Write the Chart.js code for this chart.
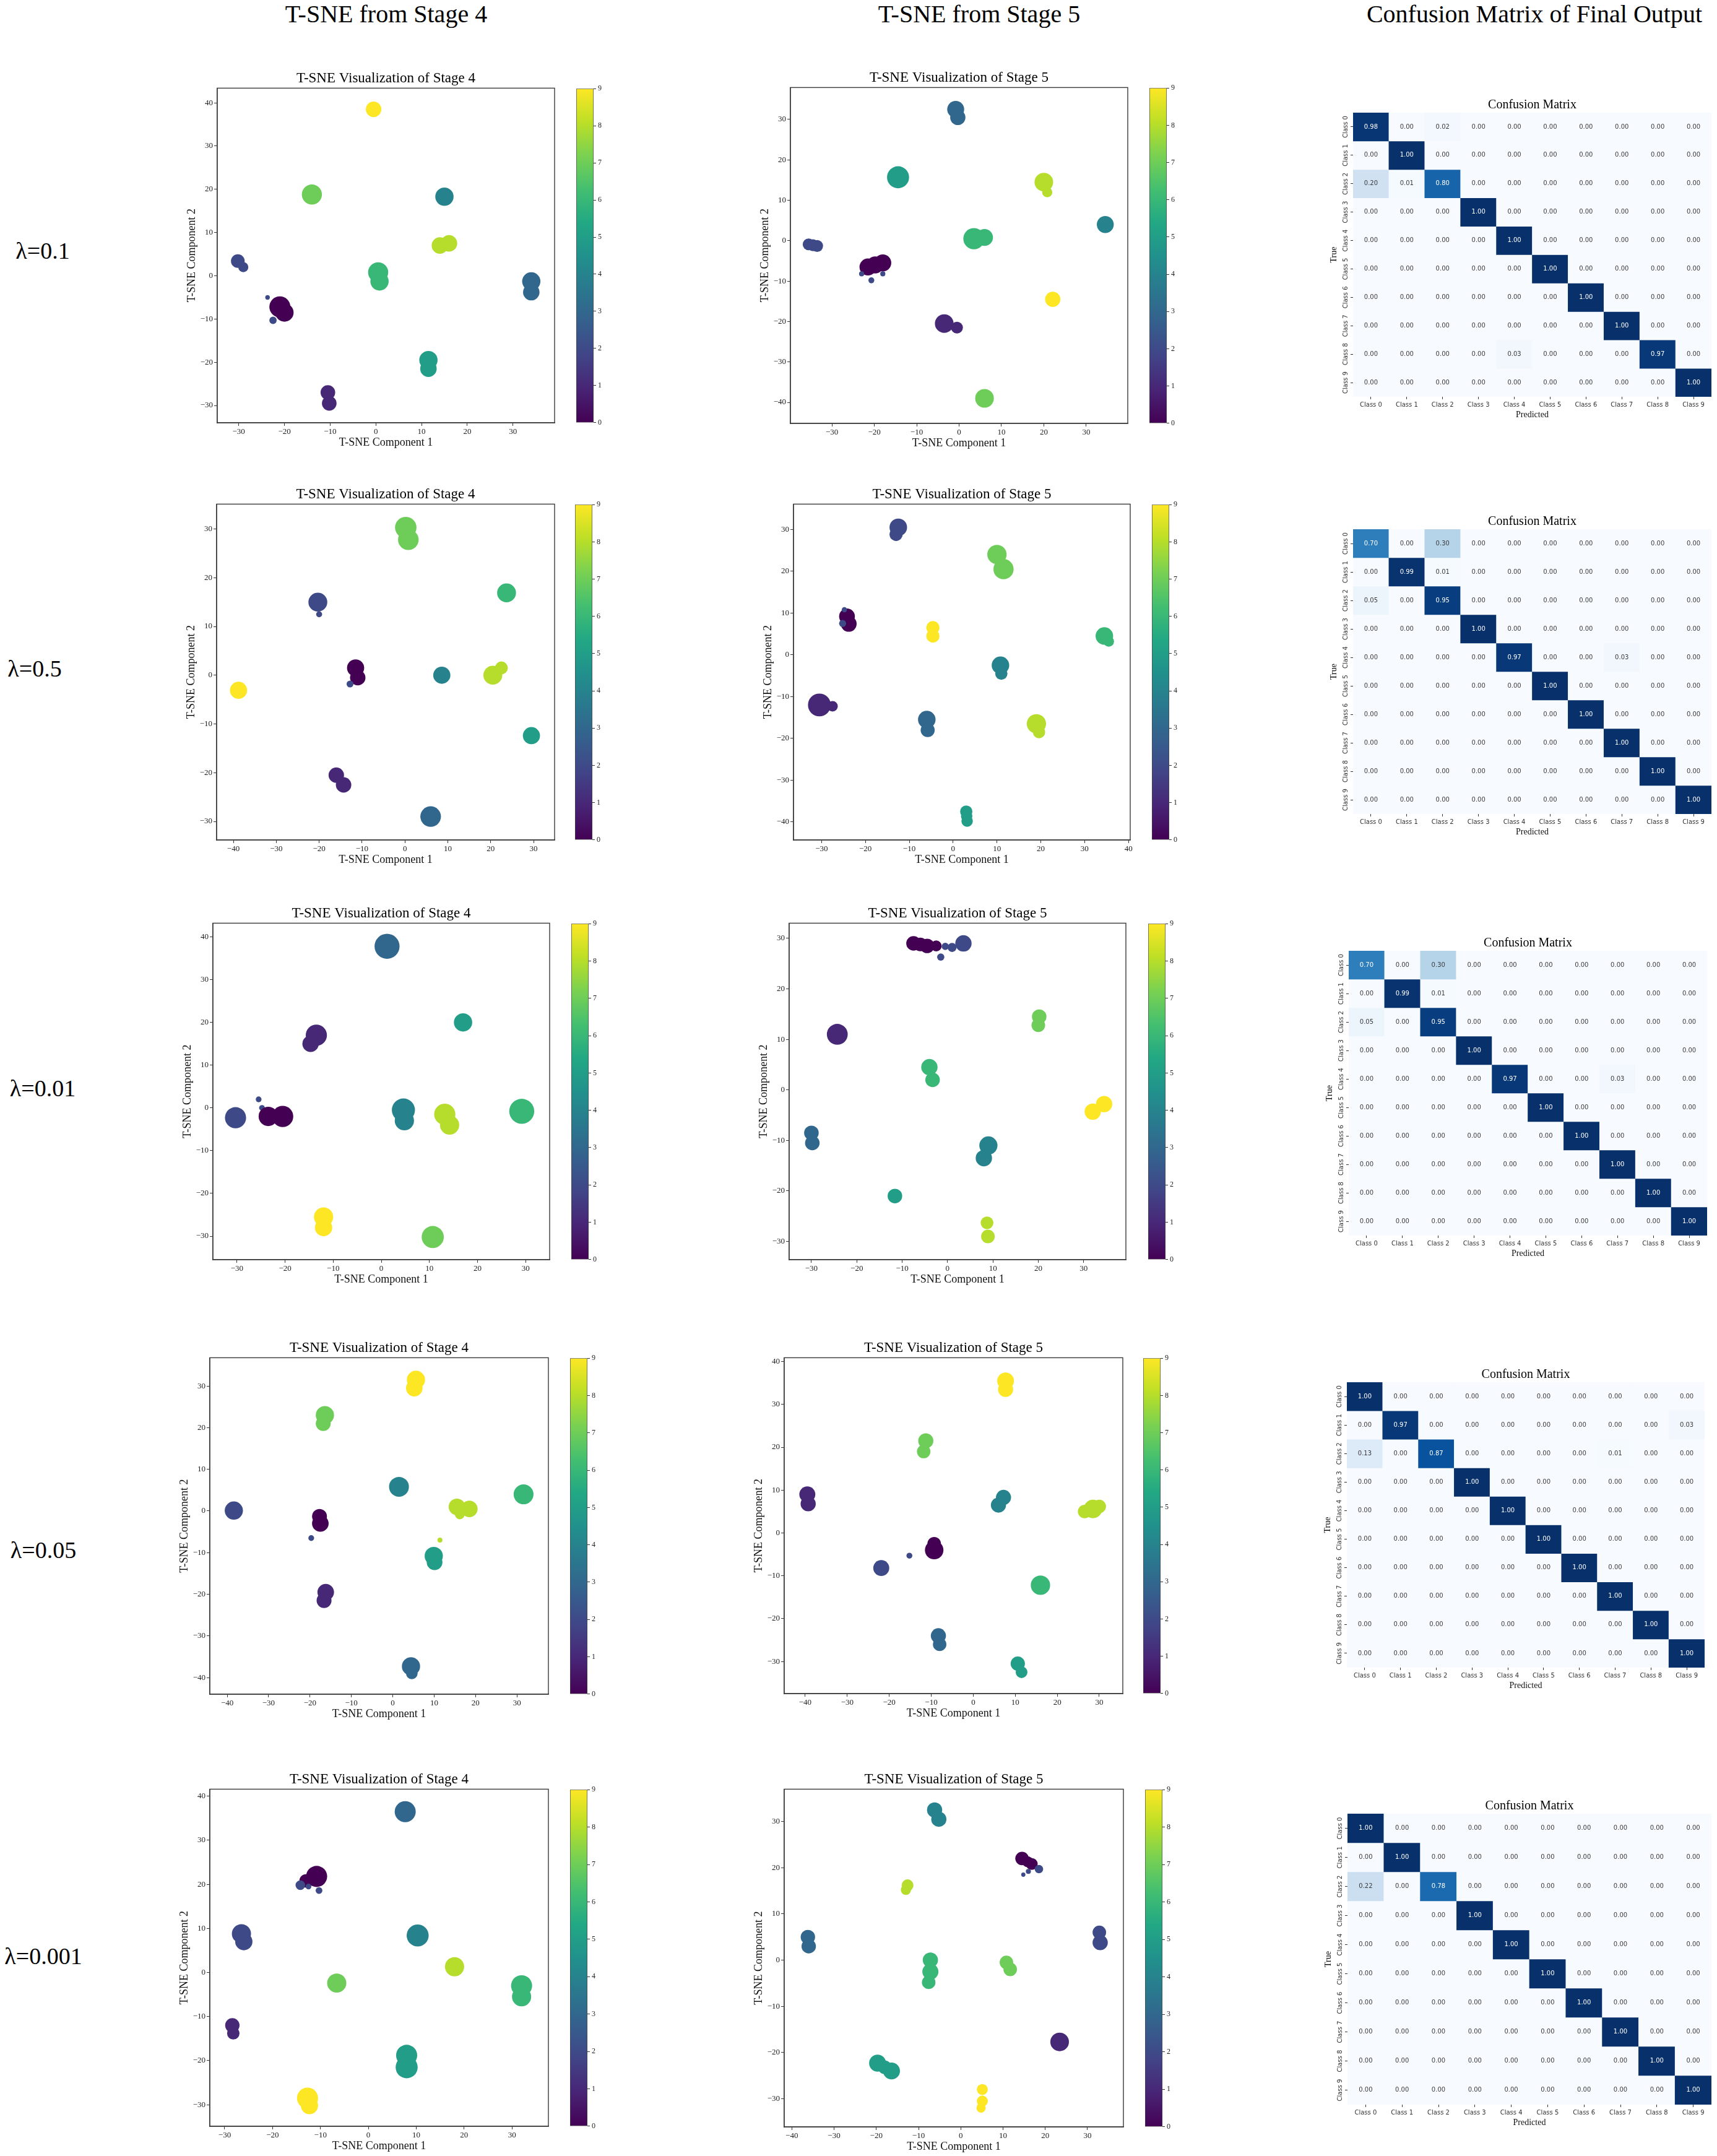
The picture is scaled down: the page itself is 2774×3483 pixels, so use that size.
<!DOCTYPE html>
<html>
<head>
<meta charset="utf-8">
<script src="https://cdn.jsdelivr.net/npm/chart.js@4.4.1/dist/chart.umd.min.js"></script>
<style>
  body { margin: 0; background: #fff; width: 2774px; height: 3483px; position: relative; overflow: hidden; }
  .lbl { position: absolute; font-family: "Liberation Serif", "Times New Roman", serif; color: #000;
         transform: translate(-50%, -50%); white-space: nowrap; line-height: 1; }
</style>
</head>
<body>
<script>
// ---- data ----
const CLASS_NAMES = ['Class 0', 'Class 1', 'Class 2', 'Class 3', 'Class 4', 'Class 5', 'Class 6', 'Class 7', 'Class 8', 'Class 9'];
const LAMBDAS = ['λ=0.1', 'λ=0.5', 'λ=0.01', 'λ=0.05', 'λ=0.001'];
const COLUMN_TITLES = ['T-SNE from Stage 4', 'T-SNE from Stage 5', 'Confusion Matrix of Final Output'];
const CB_TICKS = [0, 1, 2, 3, 4, 5, 6, 7, 8, 9];
const T_30_30 = [-30, -20, -10, 0, 10, 20, 30];
const T_40_30 = [-40, -30, -20, -10, 0, 10, 20, 30];
const T_30_40 = [-30, -20, -10, 0, 10, 20, 30, 40];

// clusters: [class, x, y, spread (x units)]
const S4_L01 = [
  [9, -0.5, 38.5, 1.7], [7, -14, 18.8, 2.2], [4, 15, 18.3, 2.0],
  [8, 14, 7, 1.8], [8, 16, 7.5, 1.8], [6, 0.5, 0.8, 2.2], [6, 0.8, -1.3, 2.0],
  [2, -30.2, 3.4, 1.5], [2, -29, 2, 1.1], [0, -21, -7.2, 2.3], [0, -20, -8.5, 2.0],
  [2, -22.5, -10.3, 0.8], [2, -23.7, -5, 0.5], [3, 34, -1.3, 2.0], [3, 34, -3.8, 1.8],
  [5, 11.5, -19.5, 2.0], [5, 11.5, -21.5, 1.8], [1, -10.5, -27, 1.6], [1, -10.2, -29.5, 1.6]
];
const S5_L01 = [
  [3, -0.8, 32.5, 2.0], [3, -0.3, 30.5, 1.8], [5, -14.4, 15.7, 2.6],
  [8, 20, 14.5, 2.2], [8, 20.8, 12, 1.2], [4, 34.5, 4, 2.0],
  [6, 3.5, 0.5, 2.5], [6, 6, 0.8, 2.0], [2, -35.5, -0.9, 1.4], [2, -34.5, -1.1, 1.4], [2, -33.5, -1.3, 1.4],
  [0, -21.5, -6.5, 2.0], [0, -19.8, -6, 2.0], [0, -18, -5.5, 2.0], [2, -23, -8.2, 0.6], [2, -20.7, -9.8, 0.7], [2, -18, -8.2, 0.6],
  [9, 22.1, -14.5, 1.8], [1, -3.5, -20.5, 2.2], [1, -0.5, -21.5, 1.4], [7, 6, -39, 2.2]
];
const S4_L05 = [
  [7, 0.2, 30.3, 2.5], [7, 0.8, 27.8, 2.4], [6, 23.7, 16.9, 2.2],
  [2, -20.3, 15, 2.2], [2, -20, 12.5, 0.7], [0, -11.5, 1.5, 2.0], [0, -11, -0.5, 1.8],
  [2, -12.8, -1.8, 0.8], [4, 8.6, 0, 2.0], [8, 20.5, 0, 2.2], [8, 22.5, 1.5, 1.5],
  [9, -38.8, -3.1, 2.0], [5, 29.5, -12.4, 2.0], [1, -16, -20.5, 1.8], [1, -14.3, -22.5, 1.8],
  [3, 6, -29, 2.4]
];
const S5_L05 = [
  [2, -12.5, 30.5, 2.0], [2, -13, 28.8, 1.5], [7, 10, 24, 2.2], [7, 11.5, 20.5, 2.3],
  [0, -24.2, 9.2, 1.8], [0, -23.8, 7.4, 1.8], [2, -25.2, 7.5, 0.8], [2, -24.8, 10.8, 0.6],
  [9, -4.6, 6.5, 1.5], [9, -4.6, 4.5, 1.5], [6, 34.5, 4.5, 2.0], [6, 35.5, 3.2, 1.2],
  [4, 10.8, -2.5, 2.0], [4, 11, -4.5, 1.4], [1, -30.5, -12, 2.6], [1, -27.5, -12.3, 1.2],
  [3, -6, -15.5, 2.0], [3, -5.8, -18, 1.6], [8, 19, -16.5, 2.2], [8, 19.6, -18.5, 1.4],
  [5, 3, -37.5, 1.4], [5, 3.1, -38.6, 1.3], [5, 3.2, -39.8, 1.3]
];
const S4_L001 = [
  [3, 1.2, 37.8, 2.6], [5, 17, 20, 1.9], [1, -13.5, 17, 2.2], [1, -14.7, 15, 1.7],
  [2, -30.3, -2.3, 2.2], [2, -25.5, 2, 0.6], [2, -24.8, 0, 0.6],
  [0, -23.5, -2, 2.0], [0, -20.5, -2, 2.2], [4, 4.6, -0.5, 2.4], [4, 4.8, -3, 2.0],
  [8, 13.2, -1.5, 2.2], [8, 14.2, -4, 2.0], [6, 29.2, -0.8, 2.6],
  [9, -12, -25.5, 2.0], [9, -12, -28, 1.8], [7, 10.7, -30.2, 2.3]
];
const S5_L001 = [
  [0, -7.5, 29, 1.6], [0, -6, 28.8, 1.5], [0, -4.5, 28.5, 1.6], [0, -2.5, 28.5, 1.2],
  [2, 3.5, 29, 1.8], [2, 1, 28.2, 1.0], [2, -1.5, 26.3, 0.8], [2, -0.5, 28.4, 0.8],
  [1, -24.3, 11, 2.3], [7, 20.2, 14.5, 1.6], [7, 20, 12.8, 1.5],
  [6, -4, 4.5, 1.8], [6, -3.3, 2, 1.6], [9, 34.5, -2.8, 1.8], [9, 32, -4.3, 1.8],
  [3, -30, -8.5, 1.6], [3, -29.8, -10.5, 1.6], [4, 9, -11, 2.0], [4, 8, -13.5, 1.8],
  [5, -11.6, -21, 1.6], [8, 8.7, -26.3, 1.4], [8, 8.9, -29, 1.5]
];
const S4_L005 = [
  [9, 5.6, 31.5, 2.2], [9, 5.2, 29.5, 2.0], [7, -16.4, 23, 2.2], [7, -16.8, 21, 1.8],
  [4, 1.5, 5.8, 2.4], [6, 31.6, 4, 2.4], [8, 15.5, 1, 2.0], [8, 18.5, 0.5, 2.0], [8, 16.2, -0.8, 1.2],
  [2, -38.4, 0.1, 2.2], [0, -17.7, -1.3, 1.8], [0, -17.5, -3, 2.0], [2, -19.7, -6.5, 0.7],
  [5, 9.9, -10.8, 2.2], [5, 10.1, -12.3, 1.9], [8, 11.4, -7, 0.6],
  [1, -16.2, -19.5, 2.0], [1, -16.6, -21.5, 1.8], [3, 4.4, -37.3, 2.2], [3, 4.6, -39, 1.4]
];
const S5_L005 = [
  [9, 7.7, 35.5, 2.0], [9, 7.7, 33.5, 1.8], [7, -11.3, 21.5, 1.8], [7, -11.8, 19, 1.6],
  [1, -39.5, 9, 1.9], [1, -39.3, 6.8, 1.8], [4, 7.2, 8.3, 1.8], [4, 6, 6.5, 1.8],
  [8, 28.5, 5.6, 2.2], [8, 26.5, 5, 1.6], [8, 30, 6.2, 1.6],
  [0, -9.3, -2.5, 1.6], [0, -9.3, -4, 2.2], [2, -15.2, -5.3, 0.7], [2, -21.9, -8.2, 1.9],
  [6, 16, -12.2, 2.3], [3, -8.3, -24, 1.8], [3, -8, -26, 1.6], [5, 10.6, -30.5, 1.7], [5, 11.5, -32.5, 1.4]
];
const S4_L0001 = [
  [3, 7.7, 36.5, 2.2], [0, -10.8, 21.8, 2.2], [0, -13, 20.8, 1.4],
  [2, -14.2, 19.8, 1.0], [2, -10.3, 18.6, 0.7], [2, -12.5, 19.5, 0.6],
  [2, -26.5, 8.8, 2.0], [2, -26, 7, 1.8], [4, 10.3, 8.4, 2.3], [8, 18, 1.3, 2.0],
  [7, -6.6, -2.4, 2.0], [6, 32, -3, 2.2], [6, 32, -5.5, 2.0],
  [1, -28.4, -12, 1.5], [1, -28.2, -13.8, 1.3], [5, 8, -18.8, 2.2], [5, 8, -21.5, 2.3],
  [9, -12.7, -28.5, 2.2], [9, -12.3, -30.2, 1.8]
];
const S5_L0001 = [
  [4, -6.2, 32.5, 1.8], [4, -5.2, 30.5, 1.8], [0, 14.5, 22, 1.6], [0, 15.8, 21.3, 1.3], [0, 16.8, 20.8, 1.4],
  [2, 18.5, 19.7, 1.0], [2, 16, 19.2, 0.6], [2, 14.8, 18.5, 0.5],
  [8, -12.6, 16.2, 1.4], [8, -13, 15.2, 1.2], [3, -36.2, 5, 1.7], [3, -36, 3, 1.7],
  [2, 32.8, 6, 1.6], [2, 33, 3.8, 1.8], [6, -7.2, 0, 1.8], [6, -7.2, -2.5, 1.9], [6, -7.6, -4.8, 1.6],
  [7, 10.8, -0.5, 1.6], [7, 11.7, -2, 1.6], [1, 23.4, -17.7, 2.2],
  [5, -19.7, -22.3, 2.0], [5, -18, -23.2, 1.6], [5, -16.4, -24, 2.0], [9, 5.1, -28, 1.3], [9, 5.1, -30.5, 1.3], [9, 4.8, -32, 1.1]
];

// axis limits [min, max]
const S4_L01_XLIM = [-34.7, 39.1],  S4_L01_YLIM = [-34.0, 43.4];
const S5_L01_XLIM = [-39.8, 39.8],  S5_L01_YLIM = [-45.2, 37.9];
const S4_L05_XLIM = [-43.9, 34.9],  S4_L05_YLIM = [-33.8, 35.1];
const S5_L05_XLIM = [-36.4, 40.4],  S5_L05_YLIM = [-44.3, 36.05];
const S4_L001_XLIM = [-35, 35],     S4_L001_YLIM = [-35.5, 43.2];
const S5_L001_XLIM = [-34.9, 39.3], S5_L001_YLIM = [-33.6, 33];
const S4_L005_XLIM = [-44.2, 37.6], S4_L005_YLIM = [-44, 36.8];
const S5_L005_XLIM = [-45, 35.6],   S5_L005_YLIM = [-37.5, 40.9];
const S4_L0001_XLIM = [-33.1, 37.6], S4_L0001_YLIM = [-34.9, 41.6];
const S5_L0001_XLIM = [-41.8, 38.5], S5_L0001_YLIM = [-36.1, 37];

// confusion matrices (rows = true, cols = predicted)
const CM_L01 = [
  [0.98, 0, 0.02, 0, 0, 0, 0, 0, 0, 0],
  [0, 1.00, 0, 0, 0, 0, 0, 0, 0, 0],
  [0.20, 0.01, 0.80, 0, 0, 0, 0, 0, 0, 0],
  [0, 0, 0, 1.00, 0, 0, 0, 0, 0, 0],
  [0, 0, 0, 0, 1.00, 0, 0, 0, 0, 0],
  [0, 0, 0, 0, 0, 1.00, 0, 0, 0, 0],
  [0, 0, 0, 0, 0, 0, 1.00, 0, 0, 0],
  [0, 0, 0, 0, 0, 0, 0, 1.00, 0, 0],
  [0, 0, 0, 0, 0.03, 0, 0, 0, 0.97, 0],
  [0, 0, 0, 0, 0, 0, 0, 0, 0, 1.00]
];
const CM_L05 = [
  [0.70, 0, 0.30, 0, 0, 0, 0, 0, 0, 0],
  [0, 0.99, 0.01, 0, 0, 0, 0, 0, 0, 0],
  [0.05, 0, 0.95, 0, 0, 0, 0, 0, 0, 0],
  [0, 0, 0, 1.00, 0, 0, 0, 0, 0, 0],
  [0, 0, 0, 0, 0.97, 0, 0, 0.03, 0, 0],
  [0, 0, 0, 0, 0, 1.00, 0, 0, 0, 0],
  [0, 0, 0, 0, 0, 0, 1.00, 0, 0, 0],
  [0, 0, 0, 0, 0, 0, 0, 1.00, 0, 0],
  [0, 0, 0, 0, 0, 0, 0, 0, 1.00, 0],
  [0, 0, 0, 0, 0, 0, 0, 0, 0, 1.00]
];
const CM_L001 = [
  [0.70, 0, 0.30, 0, 0, 0, 0, 0, 0, 0],
  [0, 0.99, 0.01, 0, 0, 0, 0, 0, 0, 0],
  [0.05, 0, 0.95, 0, 0, 0, 0, 0, 0, 0],
  [0, 0, 0, 1.00, 0, 0, 0, 0, 0, 0],
  [0, 0, 0, 0, 0.97, 0, 0, 0.03, 0, 0],
  [0, 0, 0, 0, 0, 1.00, 0, 0, 0, 0],
  [0, 0, 0, 0, 0, 0, 1.00, 0, 0, 0],
  [0, 0, 0, 0, 0, 0, 0, 1.00, 0, 0],
  [0, 0, 0, 0, 0, 0, 0, 0, 1.00, 0],
  [0, 0, 0, 0, 0, 0, 0, 0, 0, 1.00]
];
const CM_L005 = [
  [1.00, 0, 0, 0, 0, 0, 0, 0, 0, 0],
  [0, 0.97, 0, 0, 0, 0, 0, 0, 0, 0.03],
  [0.13, 0, 0.87, 0, 0, 0, 0, 0.01, 0, 0],
  [0, 0, 0, 1.00, 0, 0, 0, 0, 0, 0],
  [0, 0, 0, 0, 1.00, 0, 0, 0, 0, 0],
  [0, 0, 0, 0, 0, 1.00, 0, 0, 0, 0],
  [0, 0, 0, 0, 0, 0, 1.00, 0, 0, 0],
  [0, 0, 0, 0, 0, 0, 0, 1.00, 0, 0],
  [0, 0, 0, 0, 0, 0, 0, 0, 1.00, 0],
  [0, 0, 0, 0, 0, 0, 0, 0, 0, 1.00]
];
const CM_L0001 = [
  [1.00, 0, 0, 0, 0, 0, 0, 0, 0, 0],
  [0, 1.00, 0, 0, 0, 0, 0, 0, 0, 0],
  [0.22, 0, 0.78, 0, 0, 0, 0, 0, 0, 0],
  [0, 0, 0, 1.00, 0, 0, 0, 0, 0, 0],
  [0, 0, 0, 0, 1.00, 0, 0, 0, 0, 0],
  [0, 0, 0, 0, 0, 1.00, 0, 0, 0, 0],
  [0, 0, 0, 0, 0, 0, 1.00, 0, 0, 0],
  [0, 0, 0, 0, 0, 0, 0, 1.00, 0, 0],
  [0, 0, 0, 0, 0, 0, 0, 0, 1.00, 0],
  [0, 0, 0, 0, 0, 0, 0, 0, 0, 1.00]
];

const PANELS = [
  { s4: [S4_L01, S4_L01_XLIM, S4_L01_YLIM, T_30_30, T_30_40], s5: [S5_L01, S5_L01_XLIM, S5_L01_YLIM, T_30_30, T_40_30], cm: CM_L01 },
  { s4: [S4_L05, S4_L05_XLIM, S4_L05_YLIM, T_40_30, T_30_30], s5: [S5_L05, S5_L05_XLIM, S5_L05_YLIM, T_30_40, T_40_30], cm: CM_L05 },
  { s4: [S4_L001, S4_L001_XLIM, S4_L001_YLIM, T_30_30, T_30_40], s5: [S5_L001, S5_L001_XLIM, S5_L001_YLIM, T_30_30, T_30_30], cm: CM_L001 },
  { s4: [S4_L005, S4_L005_XLIM, S4_L005_YLIM, T_40_30, T_40_30], s5: [S5_L005, S5_L005_XLIM, S5_L005_YLIM, T_40_30, T_30_40], cm: CM_L005 },
  { s4: [S4_L0001, S4_L0001_XLIM, S4_L0001_YLIM, T_30_30, T_30_40], s5: [S5_L0001, S5_L0001_XLIM, S5_L0001_YLIM, T_40_30, T_30_30], cm: CM_L0001 }
];

// ---- layout (page pixels): plot boxes [left, top, right, bottom, colorbarLeft], matrix grid [l, t, r, b] ----
const LAYOUT = [
  { lx: 69, ly: 405,  s4: [351, 143, 896, 683, 931],   s5: [1277, 142, 1822, 684, 1857],   cm: [2186, 182, 2765, 641] },
  { lx: 56, ly: 1080, s4: [350, 815, 896, 1357, 929],  s5: [1282, 815, 1826, 1357, 1861],  cm: [2186, 855, 2765, 1315] },
  { lx: 69, ly: 1758, s4: [344, 1492, 888, 2035, 923], s5: [1275, 1492, 1819, 2035, 1855], cm: [2179, 1536, 2758, 1996] },
  { lx: 70, ly: 2504, s4: [339, 2194, 886, 2737, 921], s5: [1267, 2194, 1814, 2736, 1847], cm: [2176, 2233, 2754, 2694] },
  { lx: 70, ly: 3160, s4: [339, 2891, 886, 3435, 921], s5: [1267, 2891, 1815, 3436, 1850], cm: [2177, 2930, 2765, 3400] }
];
const COLUMN_X = [624, 1582, 2479];
const COLUMN_Y = 23;

const SERIF = '"Liberation Serif", "Times New Roman", serif';
const SANS = '"DejaVu Sans", sans-serif';

const VIRIDIS = ['#440154', '#482475', '#414487', '#355f8d', '#2a788e', '#21918c', '#22a884', '#44bf70', '#7ad151', '#bddf26', '#fde725'];
const BLUES = ['#f7fbff', '#deebf7', '#c6dbef', '#9ecae1', '#6baed6', '#4292c6', '#2171b5', '#08519c', '#08306b'];

function hexRgb(h) { return [1, 3, 5].map(i => parseInt(h.substr(i, 2), 16)); }
function sampleMap(stops, t) {
  t = Math.max(0, Math.min(1, t));
  const p = t * (stops.length - 1), i = Math.min(Math.floor(p), stops.length - 2), f = p - i;
  const a = hexRgb(stops[i]), b = hexRgb(stops[i + 1]);
  return 'rgb(' + a.map((v, k) => Math.round(v + (b[k] - v) * f)).join(',') + ')';
}
const classColor = c => sampleMap(VIRIDIS, c / 9);
const fmtTick = v => (v < 0 ? '\u2212' + Math.abs(v) : String(v));

Chart.defaults.font.family = SERIF;
Chart.defaults.animation = false;

function makeCanvas(x, y, w, h) {
  const cv = document.createElement('canvas');
  x = Math.round(x); y = Math.round(y); w = Math.round(w); h = Math.round(h);
  cv.width = w; cv.height = h;
  cv.style.cssText = `position:absolute;left:${x}px;top:${y}px;width:${w}px;height:${h}px`;
  document.body.appendChild(cv);
  return cv;
}

function addLabel(text, x, y, size) {
  const d = document.createElement('div');
  d.className = 'lbl';
  d.textContent = text;
  d.style.left = x + 'px';
  d.style.top = y + 'px';
  d.style.fontSize = size + 'px';
  document.body.appendChild(d);
}

const frame = {
  id: 'frame',
  afterDraw(chart) {
    const { ctx, chartArea: a } = chart;
    ctx.save();
    ctx.strokeStyle = '#3a3a3a';
    ctx.lineWidth = 1.4;
    ctx.strokeRect(a.left, a.top, a.right - a.left, a.bottom - a.top);
    ctx.restore();
  }
};

function scatterPlot(box, title, spec) {
  const [blobs, xlim, ylim, xt, yt] = spec;
  const L = 56, B = 47, T = 29.6, R = 12;
  const cv = makeCanvas(box[0] - L, box[1] - T, box[2] - box[0] + L + R, box[3] - box[1] + T + B);
  const axis = (ticks, lim, label, isX) => ({
    type: 'linear', min: lim[0], max: lim[1],
    afterBuildTicks: s => { s.ticks = ticks.map(v => ({ value: v })); },
    afterFit: s => { if (isX) s.height = B; else s.width = L; },
    grid: { display: true, drawOnChartArea: false, drawTicks: true, tickLength: 5, color: '#333', lineWidth: 1 },
    border: { display: true, color: '#3a3a3a', width: 1.4 },
    ticks: { font: { family: SERIF, size: 13 }, color: '#222', padding: 2, autoSkip: false, maxRotation: 0, callback: v => fmtTick(v) },
    title: { display: true, text: label, font: { family: SERIF, size: 18 }, color: '#111', padding: { top: 4, bottom: 4 } }
  });
  new Chart(cv, {
    type: 'scatter',
    data: {
      datasets: [{
        data: blobs.map(b => ({ x: b[1], y: b[2], c: b[0], s: b[3] })),
        backgroundColor: ctx => (ctx.raw ? classColor(ctx.raw.c) : '#000'),
        borderWidth: 0,
        radius: ctx => {
          if (!ctx.raw) return 3;
          const sx = ctx.chart.scales.x;
          return Math.abs(sx.getPixelForValue(ctx.raw.x + ctx.raw.s) - sx.getPixelForValue(ctx.raw.x));
        }
      }]
    },
    options: {
      responsive: false, devicePixelRatio: 1, events: [],
      layout: { padding: { left: 0, top: 0, right: R, bottom: 0 } },
      plugins: {
        legend: { display: false }, tooltip: { enabled: false },
        title: { display: true, text: title, fullSize: false, font: { family: SERIF, size: 23, weight: 'normal' }, color: '#000', padding: { top: 0, bottom: 1.8 } }
      },
      scales: { x: axis(xt, xlim, 'T-SNE Component 1', true), y: axis(yt, ylim, 'T-SNE Component 2', false) }
    },
    plugins: [frame]
  });
}

function colorbar(left, top, bottom) {
  const W = 28, A = 24, P = 10;
  const cv = makeCanvas(left, top - P, W + A, bottom - top + 2 * P);
  new Chart(cv, {
    type: 'bar',
    data: {
      labels: [''],
      datasets: [{
        data: [[CB_TICKS[0], CB_TICKS[CB_TICKS.length - 1]]],
        backgroundColor: ctx => {
          const ch = ctx.chart, a = ch.chartArea;
          if (!a) return VIRIDIS[0];
          const g = ch.ctx.createLinearGradient(0, a.bottom, 0, a.top);
          VIRIDIS.forEach((c, i) => g.addColorStop(i / (VIRIDIS.length - 1), c));
          return g;
        },
        borderColor: '#444', borderWidth: 1, borderSkipped: false,
        barPercentage: 1, categoryPercentage: 1
      }]
    },
    options: {
      responsive: false, devicePixelRatio: 1, events: [],
      layout: { padding: { left: 0, right: 0, top: P, bottom: P } },
      plugins: { legend: { display: false }, tooltip: { enabled: false } },
      scales: {
        x: { display: false },
        y: {
          position: 'right', min: 0, max: 9,
          afterBuildTicks: s => { s.ticks = CB_TICKS.map(v => ({ value: v })); },
          afterFit: s => { s.width = A; },
          grid: { drawOnChartArea: false, tickLength: 4, color: '#333' },
          border: { display: false },
          ticks: { font: { family: SERIF, size: 12 }, color: '#222', padding: 3, autoSkip: false }
        }
      }
    }
  });
}

const cellText = {
  id: 'cellText',
  afterDatasetsDraw(chart) {
    const c = chart.ctx;
    c.save();
    c.font = '10px ' + SANS;
    c.textAlign = 'center';
    c.textBaseline = 'middle';
    chart.data.datasets.forEach((ds, i) => {
      chart.getDatasetMeta(i).data.forEach((bar, j) => {
        const v = ds.vals[j];
        c.fillStyle = v > 0.5 ? '#ffffff' : '#3a3a3a';
        c.fillText(v.toFixed(2), bar.x, (bar.y + bar.base) / 2);
      });
    });
    c.restore();
  }
};

const measure = document.createElement('canvas').getContext('2d');
measure.font = '10px ' + SANS;
const widestName = Math.max(...CLASS_NAMES.map(n => measure.measureText(n).width));

function confusion(box, M) {
  const L = 43, B = 42, T = 24;
  const cv = makeCanvas(box[0] - L, box[1] - T, box[2] - box[0] + L, box[3] - box[1] + T + B);
  new Chart(cv, {
    type: 'bar',
    data: {
      labels: CLASS_NAMES,
      datasets: M.map((row, i) => ({
        data: row.map(() => [i, i + 1]),
        vals: row,
        backgroundColor: row.map(v => sampleMap(BLUES, v)),
        borderWidth: 0, grouped: false, barPercentage: 1, categoryPercentage: 1
      }))
    },
    options: {
      responsive: false, devicePixelRatio: 1, events: [],
      layout: { padding: 0 },
      plugins: {
        legend: { display: false }, tooltip: { enabled: false },
        title: { display: true, text: 'Confusion Matrix', fullSize: false, font: { family: SERIF, size: 20, weight: 'normal' }, color: '#000', padding: { top: 0, bottom: 0 } }
      },
      scales: {
        x: {
          type: 'category', offset: true,
          afterFit: s => { s.height = B; },
          grid: { display: true, drawOnChartArea: false, offset: false, tickLength: 4, color: '#333' },
          border: { display: false },
          ticks: { font: { family: SANS, size: 10 }, color: '#333', padding: 3, maxRotation: 0, autoSkip: false },
          title: { display: true, text: 'Predicted', font: { family: SERIF, size: 14 }, color: '#111', padding: { top: 0, bottom: 4 } }
        },
        y: {
          type: 'linear', min: 0, max: 10, reverse: true,
          afterBuildTicks: s => { s.ticks = CLASS_NAMES.map((_, i) => ({ value: i + 0.5 })); },
          afterFit: s => { s.width = L; },
          grid: { display: true, drawOnChartArea: false, tickLength: 4, color: '#333' },
          border: { display: false },
          ticks: {
            font: { family: SANS, size: 10 }, color: '#333', autoSkip: false,
            minRotation: 90, maxRotation: 90, crossAlign: 'center', padding: 8 - widestName / 2,
            callback: (v, i) => CLASS_NAMES[i]
          },
          title: { display: true, text: 'True', font: { family: SERIF, size: 14 }, color: '#111', padding: { top: 4, bottom: 0 } }
        }
      }
    },
    plugins: [cellText]
  });
}

COLUMN_TITLES.forEach((t, i) => addLabel(t, COLUMN_X[i], COLUMN_Y, 40));

LAYOUT.forEach((lay, r) => {
  const p = PANELS[r];
  addLabel(LAMBDAS[r], lay.lx, lay.ly, 38);
  scatterPlot(lay.s4, 'T-SNE Visualization of Stage 4', p.s4);
  colorbar(lay.s4[4], lay.s4[1], lay.s4[3]);
  scatterPlot(lay.s5, 'T-SNE Visualization of Stage 5', p.s5);
  colorbar(lay.s5[4], lay.s5[1], lay.s5[3]);
  confusion(lay.cm, p.cm);
});
</script>
</body>
</html>
